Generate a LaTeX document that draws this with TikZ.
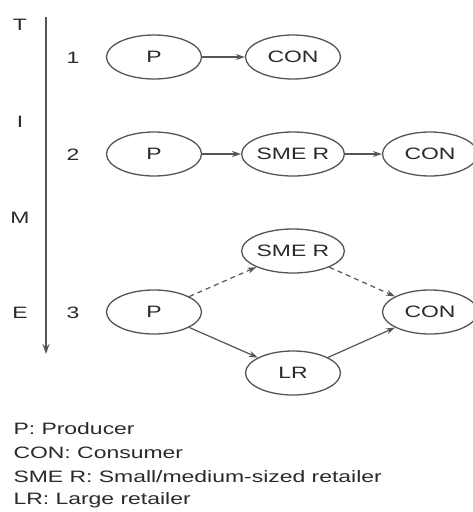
\documentclass[tikz,border=0pt]{standalone}
\usepackage{fontspec}
\setmainfont{Liberation Sans}[FakeStretch=1.39]
\usetikzlibrary{shapes.geometric,arrows.meta}
\definecolor{ln}{HTML}{555555}
\definecolor{tx}{HTML}{2A2A2A}
\begin{document}
\begin{tikzpicture}[x=1pt,y=-1pt,
  every node/.style={font=\fontsize{16.5}{19}\selectfont, text=tx},
  ell/.style={draw=ln, line width=1.3pt, ellipse, minimum width=95pt, minimum height=44pt, inner sep=0pt},
  arr/.style={draw=ln, line width=1.2pt, -{Stealth[length=9pt,width=6pt]}},
  dsh/.style={arr, dash pattern=on 5pt off 4pt}]
\useasboundingbox (0,0) rectangle (472,512);
\fill[white] (0,0) rectangle (472,512);
% time axis
\node (T) at (20,25) {T};
\node (I) at (20,122) {I};
\node (M) at (20,218) {M};
\node (E) at (20,313) {E};
\coordinate (ta) at (46,17);
\coordinate (tb) at (46,354);
\draw[draw=ln, line width=1.5pt, -{Stealth[length=10pt,width=7pt]}] (ta) -- (tb);
% row labels
\node (n1) at (73,58) {1};
\node (n2) at (73,155) {2};
\node (n3) at (73,313) {3};
% row 1
\node[ell] (p1) at (154,57) {P};
\node[ell] (c1) at (293,57) {CON};
\draw[arr] (p1) -- (c1);
% row 2
\node[ell] (p2) at (154,154) {P};
\node[ell] (s2) at (293,154) {SME R};
\node[ell] (c2) at (430,154) {CON};
\draw[arr] (p2) -- (s2);
\draw[arr] (s2) -- (c2);
% row 3
\node[ell] (p3) at (154,312) {P};
\node[ell] (s3) at (293,251) {SME R};
\node[ell] (l3) at (293,373) {LR};
\node[ell] (c3) at (430,312) {CON};
\draw[dsh] (p3) -- (s3);
\draw[dsh] (s3) -- (c3);
\draw[arr] (p3) -- (l3);
\draw[arr] (l3) -- (c3);
% legend
\node[anchor=west] (g1) at (10,429) {P: Producer};
\node[anchor=west] (g2) at (10,453) {CON: Consumer};
\node[anchor=west] (g3) at (10,477) {SME R: Small/medium-sized retailer};
\node[anchor=west] (g4) at (10,500) {LR: Large retailer};
\end{tikzpicture}
\end{document}
